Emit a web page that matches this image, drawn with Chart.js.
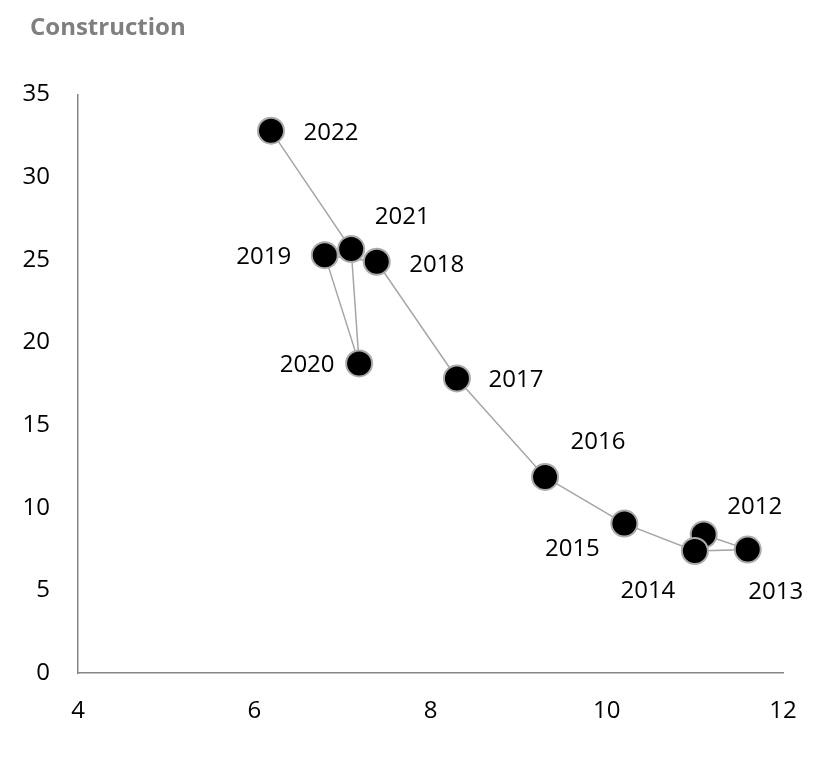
<!DOCTYPE html>
<html>
<head>
<meta charset="utf-8">
<script src="https://cdn.jsdelivr.net/npm/chart.js@4"></script>
<style>
  html, body { margin: 0; padding: 0; background: #fff; }
  #wrap { width: 825px; height: 766px; }
</style>
</head>
<body>
<div id="wrap"><canvas id="chart"></canvas></div>
<script>
// 数据：年份、横轴值、纵轴值
const years = ['2012', '2013', '2014', '2015', '2016', '2017', '2018', '2019', '2020', '2021', '2022'];
const xValues = [11.1, 11.6, 11.0, 10.2, 9.3, 8.3, 7.39, 6.8, 7.19, 7.1, 6.19];
const yValues = [8.38, 7.47, 7.38, 9.04, 11.86, 17.82, 24.88, 25.28, 18.73, 25.65, 32.81];

// 刻度
const xTicks = [4, 6, 8, 10, 12];
const yTicks = [0, 5, 10, 15, 20, 25, 30, 35];

const TITLE = 'Construction';
const FONT = '"Open Sans", "Noto Sans", sans-serif';

// 数据标签相对点中心的偏移（像素）
const labelOffsets = [
  [51, -27], [28, 43], [-47, 40], [-52, 26], [53, -35], [59, 2],
  [60, 3], [-61, 2], [-52, 2], [51, -32], [60, 2]
];

const points = xValues.map((x, i) => ({ x: x, y: yValues[i] }));

// 标题 + 数据标签插件
const yearLabels = {
  id: 'yearLabels',
  afterDatasetsDraw(chart) {
    const ctx = chart.ctx;
    const meta = chart.getDatasetMeta(0);
    ctx.save();
    ctx.font = '24px ' + FONT;
    ctx.fillStyle = '#000';
    ctx.textAlign = 'center';
    ctx.textBaseline = 'middle';
    meta.data.forEach((pt, i) => {
      const off = labelOffsets[i];
      ctx.fillText(years[i], pt.x + off[0], pt.y + off[1]);
    });

    // 标题（左对齐，x=30）
    ctx.font = 'bold 24px ' + FONT;
    ctx.fillStyle = '#7f7f7f';
    ctx.textAlign = 'left';
    ctx.fillText(TITLE, 30, 28);
    ctx.restore();
  }
};

new Chart(document.getElementById('chart'), {
  type: 'scatter',
  data: {
    datasets: [{
      data: points,
      showLine: true,
      borderColor: '#a6a6a6',
      borderWidth: 1.5,
      pointRadius: 13,
      pointHoverRadius: 13,
      pointBackgroundColor: '#000',
      pointBorderColor: '#ababab',
      pointBorderWidth: 2
    }]
  },
  options: {
    responsive: true,
    maintainAspectRatio: false,
    animation: false,
    layout: { padding: { left: 10, right: 42, top: 94.5, bottom: 0 } },
    plugins: {
      legend: { display: false },
      tooltip: { enabled: false },
      title: { display: false }
    },
    scales: {
      x: {
        type: 'linear',
        min: 4,
        max: 12,
        afterBuildTicks(scale) { scale.ticks = xTicks.map(v => ({ value: v })); },
        afterFit(scale) {
          scale.height = 93;
          scale.paddingLeft = 0;
          scale.paddingRight = 0;
        },
        grid: { display: false, drawTicks: false },
        border: { display: true, color: '#868686', width: 1.5 },
        ticks: { color: '#000', padding: 24, font: { family: FONT, size: 24 } }
      },
      y: {
        type: 'linear',
        min: 0,
        max: 35,
        afterBuildTicks(scale) { scale.ticks = yTicks.map(v => ({ value: v })); },
        afterFit(scale) { scale.width = 68; },
        grid: { display: false, drawTicks: false },
        border: { display: true, color: '#868686', width: 1.5 },
        ticks: { color: '#000', padding: 28, font: { family: FONT, size: 24 } }
      }
    }
  },
  plugins: [yearLabels]
});
</script>
</body>
</html>
